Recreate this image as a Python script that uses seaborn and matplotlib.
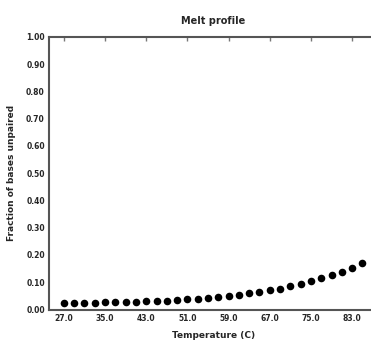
import numpy as np
import pandas as pd
import matplotlib
matplotlib.use("Agg")
import matplotlib.pyplot as plt
import seaborn as sns

# Melt curve: temperature (C) vs fraction of unpaired bases
temperature = [27, 29, 31, 33, 35, 37, 39, 41, 43, 45, 47, 49, 51, 53, 55,
               57, 59, 61, 63, 65, 67, 69, 71, 73, 75, 77, 79, 81, 83, 85]
fraction_unpaired = [0.023, 0.023, 0.024, 0.025, 0.026, 0.027, 0.028, 0.029,
                     0.030, 0.031, 0.033, 0.035, 0.037, 0.040, 0.043, 0.047,
                     0.051, 0.054, 0.059, 0.065, 0.070, 0.077, 0.085, 0.094,
                     0.104, 0.114, 0.125, 0.139, 0.153, 0.169]
x_ticks = [27.0, 35.0, 43.0, 51.0, 59.0, 67.0, 75.0, 83.0]
y_ticks = [0.0, 0.1, 0.2, 0.3, 0.4, 0.5, 0.6, 0.7, 0.8, 0.9, 1.0]

df = pd.DataFrame({"temperature": temperature, "fraction": fraction_unpaired})

sns.set_style("white")
plt.rcParams["font.family"] = ["DejaVu Sans"]

fig = plt.figure(figsize=(3.71, 3.42), dpi=100)
# the plot area runs off the right edge of the canvas
ax = fig.add_axes([0.132, 0.095, 0.885, 0.797])

sns.scatterplot(data=df, x="temperature", y="fraction", ax=ax,
                color="black", s=30, edgecolor="black", linewidth=0)

ax.margins(x=0.05)
ax.set_ylim(0, 1.0)
ax.set_xticks(x_ticks)
ax.set_xticklabels([f"{v:.1f}" for v in x_ticks], fontsize=5.5, fontweight="bold")
ax.set_yticks(y_ticks)
ax.set_yticklabels([f"{v:.2f}" for v in y_ticks], fontsize=5.5, fontweight="bold")

ax.tick_params(axis="both", direction="in", length=3, width=1, color="#777777",
               top=True, right=False, pad=3)

for side in ["left", "bottom", "top"]:
    ax.spines[side].set_color("#555555")
    ax.spines[side].set_linewidth(1.5)
ax.spines["right"].set_visible(False)

ax.set_title("Melt profile", fontsize=7, fontweight="bold", pad=9)
ax.set_xlabel("Temperature (C)", fontsize=6.5, fontweight="bold", labelpad=6)
ax.set_ylabel("Fraction of bases unpaired", fontsize=6.5, fontweight="bold",
              labelpad=7)

fig.savefig("out.png", dpi=100)
